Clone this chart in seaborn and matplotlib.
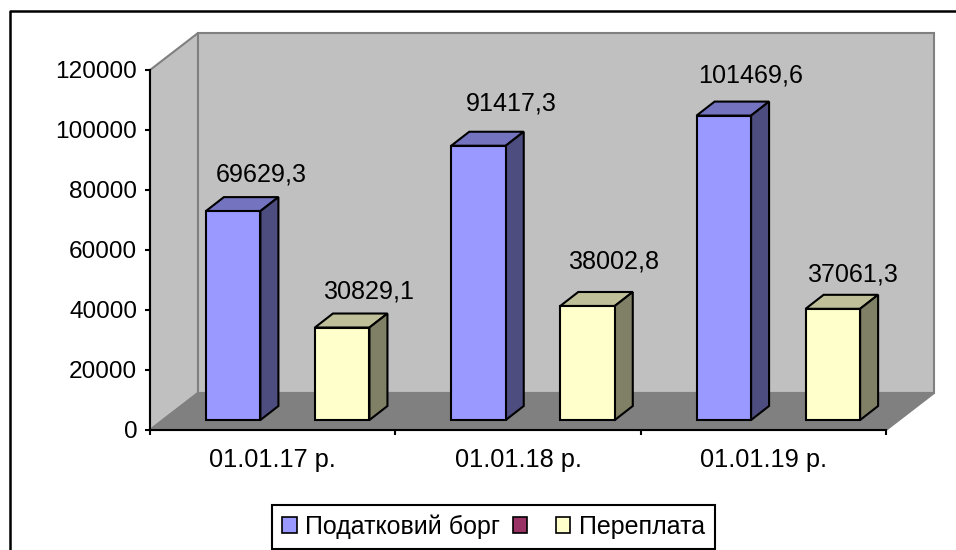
import pandas as pd
import matplotlib
matplotlib.use("Agg")
import matplotlib.pyplot as plt
import seaborn as sns
from matplotlib.lines import Line2D
from matplotlib.patches import Patch, Polygon
from matplotlib.transforms import Affine2D, IdentityTransform

categories = ["01.01.17 р.", "01.01.18 р.", "01.01.19 р."]
borg = [69629.3, 91417.3, 101469.6]
pereplata = [30829.1, 38002.8, 37061.3]
series_names = ["Податковий борг", " ", "Переплата"]

# front, top, side
colors = {
    "Податковий борг": ("#9999FF", "#7373BF", "#4D4D80"),
    " ": ("#993366", "#993366", "#993366"),
    "Переплата": ("#FFFFCC", "#BFBF99", "#808066"),
}

# label shift from the top middle of the front face, pixels
label_shift = {
    "Податковий борг": [(28, 37), (33, 42), (27, 40)],
    "Переплата": [(26, 36), (26, 44), (20, 34)],
}

sns.set_theme(style="white")
plt.rcParams["font.family"] = ["Liberation Sans", "DejaVu Sans"]

df = pd.DataFrame({
    "date": categories * 2,
    "value": borg + pereplata,
    "series": [series_names[0]] * 3 + [series_names[2]] * 3,
})

fig = plt.figure(figsize=(9.56, 5.5), dpi=100)
ax = fig.add_axes([150 / 956, 120 / 550, 736 / 956, 360 / 550])
ax.set_facecolor("none")

sns.barplot(data=df, x="date", y="value", hue="series", hue_order=series_names,
            palette={k: v[0] for k, v in colors.items()}, width=2 / 3, gap=0,
            edgecolor="black", linewidth=1.5, saturation=1, legend=False, ax=ax)

ax.set_xlim(-0.5, 2.5)
ax.set_ylim(0, 120000)
ax.set_xlabel("")
ax.set_ylabel("")
ax.set_yticks(range(0, 120001, 20000))
ax.set_xticks([-0.5, 0.5, 1.5, 2.5], minor=True)
ax.tick_params(axis="y", which="major", labelsize=17.6, length=3.6, width=1.5, left=True, pad=5.5, colors="black")
ax.tick_params(axis="x", which="major", labelsize=18.3, length=0, pad=13, colors="black")
ax.tick_params(axis="x", which="minor", length=3.6, width=1.5, bottom=True, color="black")
for s in ["top", "right"]:
    ax.spines[s].set_visible(False)
for s in ["left", "bottom"]:
    ax.spines[s].set_linewidth(1.5)
    ax.spines[s].set_color("black")

# walls and floor of the fake 3d box
px = IdentityTransform()
wall_dx, wall_dy = 48, 37
(x0, y0), (x1, y1) = ax.transAxes.transform([(0, 0), (1, 1)])
side = [(x0, y0), (x0 + wall_dx, y0 + wall_dy), (x0 + wall_dx, y1 + wall_dy), (x0, y1)]
back = [(x0 + wall_dx, y0 + wall_dy), (x1 + wall_dx, y0 + wall_dy),
        (x1 + wall_dx, y1 + wall_dy), (x0 + wall_dx, y1 + wall_dy)]
floor = [(x0, y0), (x1, y0), (x1 + wall_dx, y0 + wall_dy), (x0 + wall_dx, y0 + wall_dy)]
for pts, col in [(side, "#C0C0C0"), (back, "#C0C0C0"), (floor, "#808080")]:
    ax.add_patch(Polygon(pts, closed=True, transform=px, facecolor=col, edgecolor="#808080",
                         linewidth=1.5, clip_on=False, zorder=0.2))

# bars stand in the middle of the floor depth
shift_x, shift_y = 15, 10
depth_x, depth_y = 18, 14
shifted = ax.transData + Affine2D().translate(shift_x, shift_y)

for container, name in zip(ax.containers, series_names):
    if name not in label_shift:
        continue
    bars = [b for b in container if b.get_height() > 0]
    for bar, val, (dx, dy) in zip(bars, df.loc[df["series"] == name, "value"], label_shift[name]):
        bar.set_transform(shifted)
        bar.set_clip_on(False)
        bar.set_zorder(3)
        (l, b), (r, t) = shifted.transform([(bar.get_x(), 0), (bar.get_x() + bar.get_width(), bar.get_height())])
        top = [(l, t), (r, t), (r + depth_x, t + depth_y), (l + depth_x, t + depth_y)]
        right = [(r, b), (r + depth_x, b + depth_y), (r + depth_x, t + depth_y), (r, t)]
        ax.add_patch(Polygon(top, closed=True, transform=px, facecolor=colors[name][1],
                             edgecolor="black", linewidth=1.5, clip_on=False, zorder=2.9))
        ax.add_patch(Polygon(right, closed=True, transform=px, facecolor=colors[name][2],
                             edgecolor="black", linewidth=1.5, clip_on=False, zorder=2.9))
        ax.text((l + r) / 2 + dx, t + dy, f"{val:.1f}".replace(".", ","), transform=px,
                ha="center", va="center", fontsize=18.1, color="black", zorder=4)

# chart frame, only top and left show in the crop
fig.add_artist(Line2D([10 / 956, 10 / 956, 1], [0, 539 / 550, 539 / 550], color="black", linewidth=1.8))

handles = [Patch(facecolor=colors[n][0], edgecolor="black", linewidth=1.2) for n in series_names]
ax.legend(handles, series_names, ncol=3, loc="lower left", bbox_to_anchor=(272 / 956, 1 / 550),
          bbox_transform=fig.transFigure, borderaxespad=0, fontsize=18, fancybox=False,
          framealpha=1, edgecolor="black", handlelength=0.58, handleheight=0.58, handletextpad=0.35,
          columnspacing=0.5, borderpad=0.4, labelcolor="black").get_frame().set_linewidth(1.5)

fig.savefig("out.png", dpi=100, facecolor="white")
